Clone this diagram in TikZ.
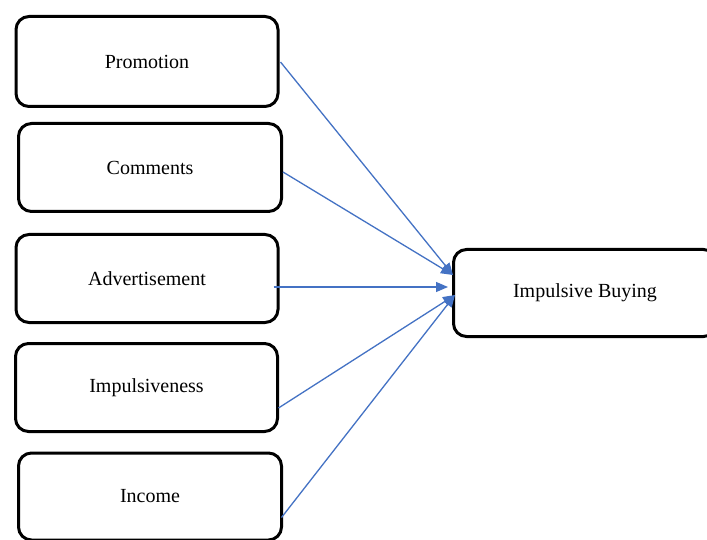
\documentclass[tikz,border=0pt]{standalone}
\usepackage{fontspec}
\setmainfont{Liberation Serif}
\usetikzlibrary{arrows.meta}
\definecolor{arrowblue}{RGB}{68,114,196}
\tikzset{
  box/.style={draw=black, line width=3pt, rounded corners=13pt, fill=white,
    font=\fontsize{20}{24}\selectfont, inner sep=0pt},
  conn/.style={draw=arrowblue, line width=1.3pt,
    -{Triangle[length=12pt,width=10pt]}}
}
\begin{document}
\begin{tikzpicture}[x=1pt,y=-1pt]
\clip (0,0) rectangle (707,540);
\fill[white] (0,0) rectangle (707,540);
\node[box, minimum width=262pt, minimum height=90pt] (prom) at (147,61.5) {\raisebox{-1.5pt}{Promotion}};
\node[box, minimum width=263pt, minimum height=88pt] (comm) at (150,167.5) {\raisebox{-1.5pt}{Comments}};
\node[box, minimum width=262pt, minimum height=88pt] (adv) at (147,278.5) {\raisebox{-1.5pt}{Advertisement}};
\node[box, minimum width=262pt, minimum height=88pt] (imp) at (146.5,387.5) {\raisebox{-1.5pt}{Impulsiveness}};
\node[box, minimum width=263pt, minimum height=87pt] (inc) at (150,496.5) {\raisebox{-1.5pt}{Income}};
\node[box, minimum width=263pt, minimum height=87pt] (ib) at (585,293) {\raisebox{-1.5pt}{Impulsive Buying}};
\draw[conn] ([xshift=1pt,yshift=-0.5pt]prom.east) -- ([xshift=1pt,yshift=18pt]ib.west);
\draw[conn] ([xshift=0pt,yshift=-4.5pt]comm.east) -- ([xshift=1pt,yshift=18pt]ib.west);
\draw[conn] ([xshift=-6pt,yshift=-8.5pt]adv.east) -- ([xshift=-4pt,yshift=6pt]ib.west);
\draw[conn] ([xshift=-0.5pt,yshift=-20.5pt]imp.east) -- ([xshift=3pt,yshift=-2pt]ib.west);
\draw[conn] ([xshift=-1.5pt,yshift=-21pt]inc.east) -- ([xshift=3pt,yshift=-2pt]ib.west);
\end{tikzpicture}
\end{document}
